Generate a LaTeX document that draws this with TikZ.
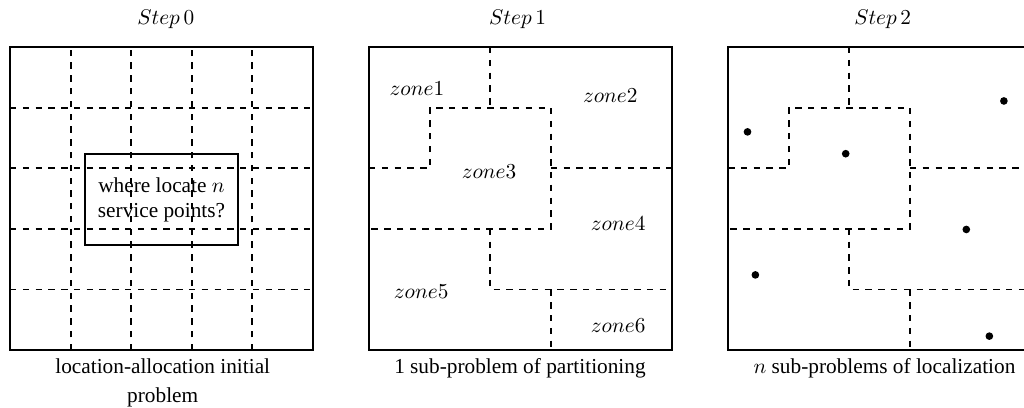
\documentclass[tikz,border=0pt]{standalone}
\usepackage{fontspec}
\setmainfont{Liberation Serif}

\begin{document}
\begin{tikzpicture}[
frame/.style = {draw, line width=1pt},
cut/.style = {dashed, line width=0.9pt},
site/.style = {circle, fill, inner sep=0pt, minimum size=3.6pt},
caption/.style = {anchor=north, align=center},
]
\useasboundingbox (-0.165,-0.94) rectangle (16.73,5.776);

% Step 0: initial problem
\node (t0) at (2.57,5.45) {$Step\,0$};
\foreach \i in {1,...,4} {
  \draw[cut] (\i,0) -- (\i,5);
  \draw[cut] (0,\i) -- (5,\i);
}
\draw[frame] (0,0) rectangle (5,5);
\node[frame, minimum width=2.52cm, minimum height=1.5cm, align=center] (ask) at (2.5,2.48) {where locate $n$\\ service points?};
\node[caption] (c0) at (2.52,-0.02) {location-allocation initial\\[1.5pt] problem};

% Step 1 and Step 2: partition into zones
\foreach \dx in {5.924, 11.848} {
\begin{scope}[xshift=\dx cm]
\draw[cut] (2,5) -- (2,4);
\draw[cut] (0,3) -- (1,3) -- (1,4) -- (3,4) -- (3,2) -- (0,2);
\draw[cut] (3,3) -- (5,3);
\draw[cut] (2,2) -- (2,1) -- (5,1);
\draw[cut] (3,1) -- (3,0);
\draw[frame] (0,0) rectangle (5,5);
\end{scope}
}

% Step 1: zone labels
\begin{scope}[xshift=5.924cm]
\node (t1) at (2.45,5.45) {$Step\,1$};
\node (z1) at (0.79,4.32) {$zone1$};
\node (z2) at (3.98,4.19) {$zone2$};
\node (z3) at (1.98,2.94) {$zone3$};
\node (z4) at (4.11,2.08) {$zone4$};
\node (z5) at (0.86,0.96) {$zone5$};
\node (z6) at (4.11,0.40) {$zone6$};
\node[caption] (c1) at (2.49,-0.02) {1 sub-problem of partitioning};
\end{scope}

% Step 2: one service point per zone
\begin{scope}[xshift=11.848cm]
\node (t2) at (2.55,5.45) {$Step\,2$};
\node[site] (p1) at (0.32,3.60) {};
\node[site] (p2) at (4.55,4.11) {};
\node[site] (p3) at (1.94,3.24) {};
\node[site] (p4) at (3.93,1.99) {};
\node[site] (p5) at (0.45,1.24) {};
\node[site] (p6) at (4.31,0.23) {};
\node[caption] (c2) at (2.58,-0.02) {$n$ sub-problems of localization};
\end{scope}

\end{tikzpicture}
\end{document}
